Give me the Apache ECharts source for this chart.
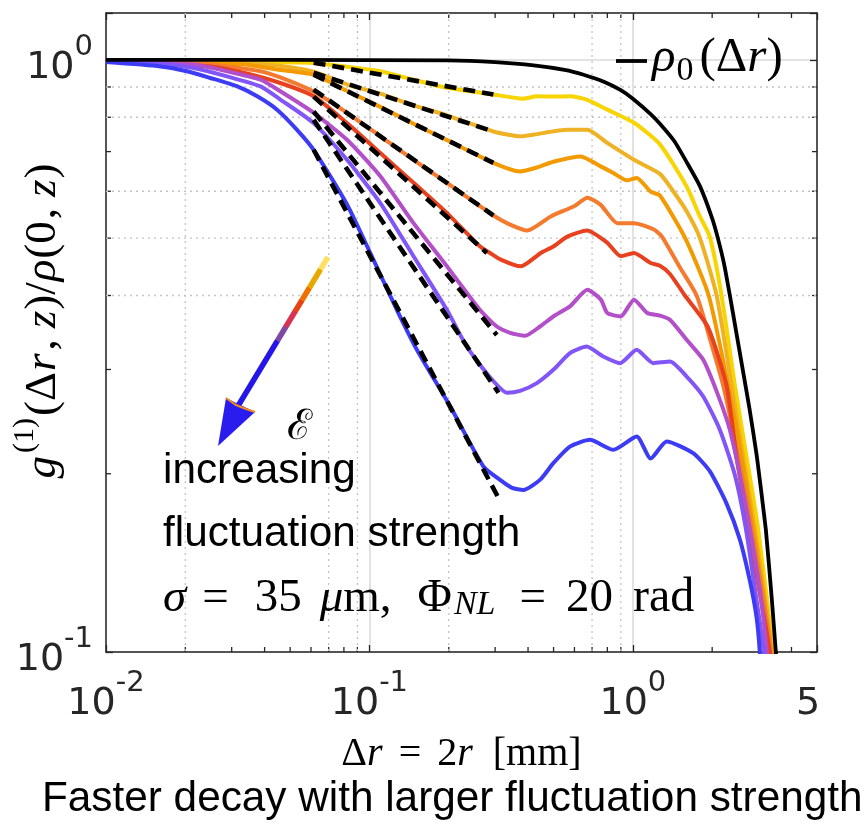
<!DOCTYPE html>
<html>
<head>
<meta charset="utf-8">
<script src="https://cdn.jsdelivr.net/npm/echarts@6/dist/echarts.min.js"></script>
<style>
html,body{margin:0;padding:0;background:#ffffff;}
#chart{width:868px;height:824px;}
</style>
</head>
<body>
<div id="chart"></div>
<script>
// ---------------- data ----------------
const xRange = [0.01, 5];
const yRange = [0.1, 1.2];

// rho_0(Δr) reference curve
const rho0 = [[0.01,1.0],[0.05,1.0],[0.2,0.998],[0.3,0.991],[0.42,0.979],[0.55,0.962],[0.65,0.944],[0.78,0.918],[0.9,0.889],[1.0,0.860],[1.168,0.810],[1.267,0.780],[1.44,0.728],[1.6,0.672],[1.797,0.612],[2.0,0.540],[2.102,0.500],[2.22,0.452],[2.335,0.4],[2.46,0.35],[2.592,0.306],[2.77,0.258],[2.955,0.214],[3.197,0.161],[3.37,0.1225],[3.489,0.1],[3.55,0.09]];

// g1 curves, ordered by increasing fluctuation strength
const eps1 = [[0.01,0.999],[0.03,0.997],[0.0515,0.990],[0.0614,0.988],[0.0846,0.972],[0.110,0.957],[0.147,0.926],[0.197,0.897],[0.2955,0.874],[0.384,0.860],[0.432,0.868],[0.499,0.867],[0.577,0.868],[0.668,0.857],[0.800,0.824],[1.010,0.783],[1.267,0.72],[1.600,0.611],[1.797,0.544],[1.961,0.502],[2.171,0.400],[2.439,0.282],[2.701,0.2136],[2.988,0.1616],[3.408,0.100],[3.49,0.085]];
const eps2 = [[0.01,0.997],[0.03,0.990],[0.0446,0.978],[0.0614,0.955],[0.0846,0.905],[0.110,0.877],[0.147,0.838],[0.197,0.806],[0.2955,0.757],[0.375,0.743],[0.4217,0.748],[0.564,0.762],[0.672,0.762],[0.80,0.724],[1.01,0.678],[1.267,0.642],[1.423,0.60],[1.60,0.555],[1.797,0.50],[2.079,0.40],[2.370,0.282],[2.622,0.2136],[2.903,0.1616],[3.390,0.100],[3.46,0.085]];
const eps3 = [[0.01,0.997],[0.0333,0.982],[0.0446,0.963],[0.0614,0.944],[0.0822,0.886],[0.110,0.833],[0.147,0.780],[0.197,0.732],[0.2955,0.670],[0.373,0.648],[0.432,0.658],[0.499,0.673],[0.634,0.687],[0.755,0.661],[0.843,0.644],[0.95,0.626],[1.034,0.632],[1.168,0.599],[1.267,0.590],[1.58,0.50],[1.94,0.40],[2.300,0.282],[2.585,0.2136],[2.860,0.1616],[3.361,0.100],[3.43,0.085]];
const eps4 = [[0.01,0.997],[0.0215,0.988],[0.0288,0.975],[0.0386,0.957],[0.0459,0.934],[0.0614,0.884],[0.0822,0.814],[0.110,0.743],[0.147,0.678],[0.197,0.620],[0.263,0.566],[0.2955,0.546],[0.342,0.527],[0.397,0.515],[0.488,0.544],[0.598,0.566],[0.672,0.585],[0.755,0.569],[0.873,0.530],[1.010,0.530],[1.202,0.517],[1.289,0.503],[1.509,0.446],[1.746,0.40],[1.961,0.338],[2.202,0.282],[2.510,0.2136],[2.821,0.1616],[3.340,0.100],[3.39,0.085]];
const eps5 = [[0.01,0.997],[0.0249,0.975],[0.0333,0.951],[0.0459,0.914],[0.0614,0.868],[0.0822,0.782],[0.110,0.696],[0.147,0.620],[0.197,0.551],[0.263,0.484],[0.287,0.472],[0.3152,0.460],[0.3754,0.448],[0.447,0.472],[0.499,0.484],[0.564,0.503],[0.670,0.515],[0.800,0.491],[0.899,0.466],[1.010,0.472],[1.168,0.454],[1.267,0.449],[1.383,0.435],[1.576,0.400],[1.926,0.354],[2.268,0.282],[2.475,0.2136],[2.739,0.1616],[3.311,0.100],[3.36,0.085]];
const eps6 = [[0.01,0.995],[0.0215,0.982],[0.0288,0.957],[0.0386,0.926],[0.0459,0.885],[0.0614,0.814],[0.0822,0.733],[0.110,0.636],[0.147,0.530],[0.197,0.448],[0.263,0.378],[0.3045,0.3546],[0.342,0.346],[0.390,0.342],[0.444,0.3546],[0.499,0.3687],[0.577,0.3834],[0.672,0.4091],[0.755,0.394],[0.800,0.3736],[0.899,0.3687],[1.010,0.3936],[1.134,0.3736],[1.267,0.370],[1.383,0.364],[1.600,0.3367],[1.850,0.3115],[2.102,0.2721],[2.335,0.2372],[2.570,0.1953],[2.780,0.1616],[3.034,0.1274],[3.225,0.100],[3.28,0.085]];
const eps7 = [[0.01,0.993],[0.0161,0.986],[0.0215,0.969],[0.0288,0.938],[0.0386,0.902],[0.0459,0.857],[0.0614,0.782],[0.0822,0.678],[0.110,0.573],[0.147,0.466],[0.197,0.378],[0.234,0.328],[0.287,0.291],[0.3331,0.274],[0.373,0.276],[0.432,0.2845],[0.499,0.2996],[0.577,0.3197],[0.668,0.328],[0.772,0.3155],[0.894,0.3075],[1.034,0.3239],[1.195,0.3075],[1.383,0.3094],[1.600,0.2919],[1.850,0.2701],[2.140,0.2372],[2.439,0.1991],[2.685,0.1616],[2.946,0.1225],[3.142,0.100],[3.20,0.085]];
const eps8 = [[0.01,0.9915],[0.0161,0.975],[0.0203,0.957],[0.0249,0.932],[0.0315,0.902],[0.0375,0.868],[0.0446,0.824],[0.0531,0.762],[0.0614,0.705],[0.0822,0.570],[0.1007,0.472],[0.1272,0.378],[0.1514,0.324],[0.2025,0.260],[0.271,0.2057],[0.3133,0.1953],[0.348,0.1893],[0.384,0.1878],[0.444,0.1953],[0.499,0.2084],[0.577,0.2223],[0.6875,0.2282],[0.843,0.2195],[1.034,0.2311],[1.168,0.2122],[1.343,0.2267],[1.694,0.2167],[1.961,0.2019],[2.268,0.1781],[2.547,0.155],[2.780,0.132],[2.946,0.1147],[3.034,0.100],[3.09,0.085]];

// power-law fits (dashed), start and end points
const fit1 = [[0.0614,0.989],[0.2955,0.874]];
const fit2 = [[0.0614,0.951],[0.2955,0.757]];
const fit3 = [[0.0614,0.944],[0.2955,0.670]];
const fit4 = [[0.0614,0.891],[0.2955,0.546]];
const fit5 = [[0.0614,0.867],[0.279,0.472]];
const fit6 = [[0.0614,0.818],[0.3045,0.343]];
const fit7 = [[0.0614,0.792],[0.309,0.274]];
const fit8 = [[0.0614,0.705],[0.309,0.182]];

// tick / grid positions
const xMinorTicks = [0.02,0.03,0.04,0.05,0.06,0.07,0.08,0.09,0.2,0.3,0.4,0.5,0.6,0.7,0.8,0.9,2,3,4];
const yMinorTicks = [0.2,0.3,0.4,0.5,0.6,0.7,0.8,0.9];
const xDottedGrid = [0.02,0.07,0.09,0.2,0.7,0.9];
const yDottedGrid = [0.4,0.5,0.6,0.8,0.9];

// ---------------- styles ----------------
const curves = [eps1, eps2, eps3, eps4, eps5, eps6, eps7, eps8];
const fits = [fit1, fit2, fit3, fit4, fit5, fit6, fit7, fit8];
const curveColors = ['#f8d400','#eeb224','#f29a00','#f47a2e','#e8411f','#b34fc9','#8255f7','#3d3cf5'];
const axisColor = '#262626';
const serif = 'Liberation Serif';

const guideData = [].concat(
  xMinorTicks.map(v => [v, yRange[0], 0]),
  yMinorTicks.map(v => [xRange[0], v, 1]),
  xDottedGrid.map(v => [v, yRange[0], 2]),
  yDottedGrid.map(v => [xRange[0], v, 3])
);

function renderGuides(params, api) {
  const kind = api.value(2);
  const cs = params.coordSys;
  const top = cs.y, bot = cs.y + cs.height, lft = cs.x, rgt = cs.x + cs.width;
  const p = api.coord([api.value(0), api.value(1)]);
  const tick = {stroke: axisColor, lineWidth: 1.3};
  const dot = {stroke: '#c4c4c4', lineWidth: 1.3, lineDash: [2, 4]};
  if (kind === 0) {
    return {type: 'group', children: [
      {type: 'line', shape: {x1: p[0], y1: bot, x2: p[0], y2: bot - 5}, style: tick},
      {type: 'line', shape: {x1: p[0], y1: top, x2: p[0], y2: top + 5}, style: tick}
    ]};
  }
  if (kind === 1) {
    return {type: 'group', children: [
      {type: 'line', shape: {x1: lft, y1: p[1], x2: lft + 5, y2: p[1]}, style: tick},
      {type: 'line', shape: {x1: rgt, y1: p[1], x2: rgt - 5, y2: p[1]}, style: tick}
    ]};
  }
  if (kind === 2) {
    return {type: 'line', shape: {x1: p[0], y1: top, x2: p[0], y2: bot}, style: dot};
  }
  return {type: 'line', shape: {x1: lft, y1: p[1], x2: rgt, y2: p[1]}, style: dot};
}

function powLabel(v) {
  const e = Math.log10(v);
  if (Math.abs(e - Math.round(e)) < 1e-6) return '{b|10}{s|' + Math.round(e) + '}';
  if (Math.abs(v - 5) < 1e-4) return '{f|5}';
  return '';
}
const tickRich = {
  b: {fontFamily: 'DejaVu Sans', fontSize: 38, lineHeight: 54, verticalAlign: 'bottom', color: axisColor},
  f: {fontFamily: 'DejaVu Sans', fontSize: 38, lineHeight: 54, verticalAlign: 'bottom', color: axisColor, padding: [0, 18, 0, 0]},
  s: {fontFamily: 'DejaVu Sans', fontSize: 29, lineHeight: 20, verticalAlign: 'top', color: axisColor}
};

const series = [];
series.push({
  type: 'custom', name: 'guides', renderItem: renderGuides, data: guideData,
  xAxisIndex: 0, yAxisIndex: 0, z: 1, silent: true, encode: {x: 0, y: 1}
});
curves.forEach((d, i) => series.push({
  type: 'line', name: 'curve' + (i + 1), data: d, symbol: 'none', showSymbol: false, smooth: 0.2,
  lineStyle: {color: curveColors[i], width: 4}, itemStyle: {color: curveColors[i]},
  z: 3, silent: true
}));
series.push({
  type: 'line', name: 'rho0', data: rho0, symbol: 'none', showSymbol: false, smooth: 0.15,
  lineStyle: {color: '#000', width: 3.8}, itemStyle: {color: '#000'}, z: 4, silent: true
});
fits.forEach((d, i) => series.push({
  type: 'line', name: 'fit' + (i + 1), data: d, symbol: 'none', showSymbol: false,
  lineStyle: {color: '#000', width: 4.6, type: [12, 7]}, z: 5, silent: true
}));

const chart = echarts.init(document.getElementById('chart'), null, {renderer: 'canvas'});
chart.setOption({
  animation: false,
  backgroundColor: '#ffffff',
  grid: {left: 106, top: 13, width: 711, height: 639, containLabel: false, outerBoundsMode: 'none'},
  title: {
    text: 'Faster decay with larger fluctuation strength',
    left: 42, top: 778, padding: 0,
    textStyle: {fontFamily: 'Liberation Sans', fontSize: 42.3, fontWeight: 'normal', color: '#000'}
  },
  legend: {
    data: [{name: 'rho0', icon: 'rect'}],
    left: 616, top: 34, padding: 0, itemWidth: 31, itemHeight: 3.8, selectedMode: false,
    formatter: () => '{i|ρ}{sub|0}{n|(Δ}{i|r}{n|)}',
    textStyle: {
      color: '#000',
      rich: {
        i: {fontFamily: serif, fontStyle: 'italic', fontSize: 49, lineHeight: 54, verticalAlign: 'top', color: '#000'},
        n: {fontFamily: serif, fontSize: 49, lineHeight: 54, verticalAlign: 'top', color: '#000'},
        sub: {fontFamily: serif, fontSize: 34, lineHeight: 42, verticalAlign: 'bottom', color: '#000', padding: [0, 6, 0, 1]}
      }
    }
  },
  xAxis: [{
    type: 'log', logBase: 10, min: xRange[0], max: xRange[1],
    position: 'bottom',
    axisLine: {show: true, lineStyle: {color: axisColor, width: 1.5}},
    axisTick: {show: true, inside: true, length: 7, lineStyle: {color: axisColor, width: 1.3}},
    axisLabel: {margin: 17, formatter: powLabel, rich: tickRich, color: axisColor},
    splitLine: {show: true, lineStyle: {color: '#d9d9d9', width: 1.5}},
    minorTick: {show: false},
    name: '{n|Δ}{i|r}{eq|=}{n|2}{i|r}{br|[mm]}',
    nameLocation: 'middle', nameGap: 76, nameMoveOverlap: false,
    nameTextStyle: {
      rich: {
        n: {fontFamily: serif, fontSize: 40, lineHeight: 46, verticalAlign: 'bottom', color: '#000'},
        i: {fontFamily: serif, fontStyle: 'italic', fontSize: 40, lineHeight: 46, verticalAlign: 'bottom', color: '#000'},
        eq: {fontFamily: serif, fontSize: 40, lineHeight: 46, verticalAlign: 'bottom', color: '#000', padding: [0, 16, 0, 16]},
        br: {fontFamily: serif, fontSize: 40, lineHeight: 46, verticalAlign: 'bottom', color: '#000', padding: [0, 0, 0, 20]}
      }
    }
  }, {
    type: 'log', logBase: 10, min: xRange[0], max: xRange[1], position: 'top',
    axisLine: {show: true, onZero: false, lineStyle: {color: axisColor, width: 1.5}},
    axisTick: {show: true, inside: true, length: 7, lineStyle: {color: axisColor, width: 1.3}},
    axisLabel: {show: false}, splitLine: {show: false}
  }],
  yAxis: [{
    type: 'log', logBase: 10, min: yRange[0], max: yRange[1],
    position: 'left',
    axisLine: {show: true, lineStyle: {color: axisColor, width: 1.5}},
    axisTick: {show: true, inside: true, length: 7, lineStyle: {color: axisColor, width: 1.3}},
    axisLabel: {margin: 13, formatter: powLabel, rich: tickRich, color: axisColor},
    splitLine: {show: true, lineStyle: {color: '#d9d9d9', width: 1.5}},
    name: '{i|g}{sup|(1)}{n|(Δ}{i|r}{c|,}{i|z}{n|)/}{i|ρ}{n|(0}{c|,}{i|z}{n|)}',
    nameLocation: 'middle', nameGap: 40, nameRotate: 90, nameMoveOverlap: false,
    nameTextStyle: {
      padding: [0, 0, 0, 22],
      rich: {
        n: {fontFamily: serif, fontSize: 45, lineHeight: 56, verticalAlign: 'bottom', color: '#000'},
        i: {fontFamily: serif, fontStyle: 'italic', fontSize: 45, lineHeight: 56, verticalAlign: 'bottom', color: '#000', padding: [0, 1, 0, 1]},
        c: {fontFamily: serif, fontSize: 45, lineHeight: 56, verticalAlign: 'bottom', color: '#000', padding: [0, 10, 0, 2]},
        sup: {fontFamily: serif, fontSize: 30, lineHeight: 30, verticalAlign: 'top', color: '#000', padding: [0, 2, 0, 2]}
      }
    }
  }, {
    type: 'log', logBase: 10, min: yRange[0], max: yRange[1], position: 'right',
    axisLine: {show: true, onZero: false, lineStyle: {color: axisColor, width: 1.5}},
    axisTick: {show: true, inside: true, length: 7, lineStyle: {color: axisColor, width: 1.3}},
    axisLabel: {show: false}, splitLine: {show: false}
  }],
  graphic: [
    {
      type: 'line', z: 10,
      shape: {x1: 328, y1: 257, x2: 238, y2: 406},
      style: {
        lineWidth: 5.5, lineCap: 'butt',
        stroke: {type: 'linear', x: 1, y: 0, x2: 0, y2: 1, colorStops: [
          {offset: 0, color: '#ffe066'}, {offset: 0.1, color: '#ffe066'},
          {offset: 0.1, color: '#e8a800'}, {offset: 0.22, color: '#e8a800'},
          {offset: 0.22, color: '#f07000'}, {offset: 0.3, color: '#f07000'},
          {offset: 0.3, color: '#e84412'}, {offset: 0.37, color: '#e84412'},
          {offset: 0.37, color: '#d83352'}, {offset: 0.47, color: '#d83352'},
          {offset: 0.47, color: '#7f48a2'}, {offset: 0.56, color: '#7f48a2'},
          {offset: 0.56, color: '#2516e8'}, {offset: 1, color: '#2516e8'}
        ]}
      }
    },
    {
      type: 'polygon', z: 10,
      shape: {points: [[218, 446], [226, 398], [255, 412]]},
      style: {fill: '#2a1cee', stroke: null}
    },
    {
      type: 'polyline', z: 11,
      shape: {points: [[226, 398], [236, 405], [246, 409], [255, 412]]},
      style: {stroke: '#f08a20', lineWidth: 2, fill: null}
    },
    {
      type: 'text', z: 10, x: 299, y: 428,
      style: {text: 'ℰ', font: '42px "DejaVu Serif"', fill: '#000', align: 'center', verticalAlign: 'middle'}
    },
    {
      type: 'text', z: 10, x: 163, y: 471,
      style: {text: 'increasing', font: '42.3px "Liberation Sans"', fill: '#000', align: 'left', verticalAlign: 'middle'}
    },
    {
      type: 'text', z: 10, x: 163, y: 534,
      style: {text: 'fluctuation strength', font: '42.3px "Liberation Sans"', fill: '#000', align: 'left', verticalAlign: 'middle'}
    },
    {
      type: 'text', z: 10, x: 163, y: 594,
      style: {
        text: '{i|σ}{eq|=}{d|35}{i|μ}{m|m,}{n|Φ}{sub|NL}{eq2|=}{t|20}{r|rad}',
        align: 'left', verticalAlign: 'middle',
        rich: {
          n: {fontFamily: serif, fontSize: 47, lineHeight: 56, verticalAlign: 'bottom', fill: '#000'},
          r: {fontFamily: serif, fontSize: 48, lineHeight: 56, verticalAlign: 'bottom', fill: '#000'},
          i: {fontFamily: serif, fontStyle: 'italic', fontSize: 47, lineHeight: 56, verticalAlign: 'bottom', fill: '#000'},
          d: {fontFamily: serif, fontSize: 47, lineHeight: 56, verticalAlign: 'bottom', fill: '#000', padding: [0, 18, 0, 0]},
          m: {fontFamily: serif, fontSize: 47, lineHeight: 56, verticalAlign: 'bottom', fill: '#000', padding: [0, 26, 0, 0]},
          t: {fontFamily: serif, fontSize: 47, lineHeight: 56, verticalAlign: 'bottom', fill: '#000', padding: [0, 20, 0, 0]},
          eq: {fontFamily: serif, fontSize: 47, lineHeight: 56, verticalAlign: 'bottom', fill: '#000', padding: [0, 26, 0, 16]},
          eq2: {fontFamily: serif, fontSize: 47, lineHeight: 56, verticalAlign: 'bottom', fill: '#000', padding: [0, 20, 0, 24]},
          sub: {fontFamily: serif, fontStyle: 'italic', fontSize: 34, lineHeight: 40, verticalAlign: 'bottom', fill: '#000', padding: [0, 0, 0, 2]}
        }
      }
    }
  ],
  series: series
});
</script>
</body>
</html>
